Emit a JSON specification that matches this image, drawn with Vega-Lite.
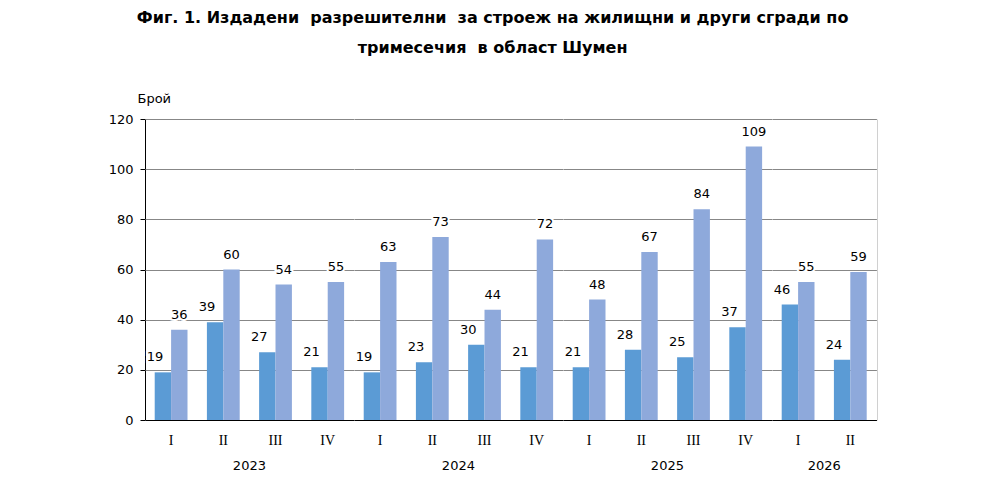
{
  "$schema": "https://vega.github.io/schema/vega-lite/v6.json",
  "background": "white",
  "padding": {"left": 108, "top": 10, "right": 5, "bottom": 5},
  "title": {
    "text": ["Фиг. 1. Издадени \u00a0разрешителни \u00a0за строеж на жилищни и други сгради по", "тримесечия \u00a0в област Шумен"],
    "font": "DejaVu Sans",
    "fontSize": 16,
    "fontWeight": "bold",
    "color": "black",
    "lineHeight": 30,
    "offset": 36,
    "anchor": "middle"
  },
  "config": {
    "view": {"stroke": null},
    "font": "DejaVu Sans",
    "axis": {"labelColor": "black", "labelFont": "DejaVu Sans", "labelFontSize": 13}
  },
  "data": {
    "values": [
      {"year": "2023", "q": "I", "series": "жилищни", "value": 19},
      {"year": "2023", "q": "I", "series": "други", "value": 36},
      {"year": "2023", "q": "II", "series": "жилищни", "value": 39},
      {"year": "2023", "q": "II", "series": "други", "value": 60},
      {"year": "2023", "q": "III", "series": "жилищни", "value": 27},
      {"year": "2023", "q": "III", "series": "други", "value": 54},
      {"year": "2023", "q": "IV", "series": "жилищни", "value": 21},
      {"year": "2023", "q": "IV", "series": "други", "value": 55},
      {"year": "2024", "q": "I", "series": "жилищни", "value": 19},
      {"year": "2024", "q": "I", "series": "други", "value": 63},
      {"year": "2024", "q": "II", "series": "жилищни", "value": 23},
      {"year": "2024", "q": "II", "series": "други", "value": 73},
      {"year": "2024", "q": "III", "series": "жилищни", "value": 30},
      {"year": "2024", "q": "III", "series": "други", "value": 44},
      {"year": "2024", "q": "IV", "series": "жилищни", "value": 21},
      {"year": "2024", "q": "IV", "series": "други", "value": 72},
      {"year": "2025", "q": "I", "series": "жилищни", "value": 21},
      {"year": "2025", "q": "I", "series": "други", "value": 48},
      {"year": "2025", "q": "II", "series": "жилищни", "value": 28},
      {"year": "2025", "q": "II", "series": "други", "value": 67},
      {"year": "2025", "q": "III", "series": "жилищни", "value": 25},
      {"year": "2025", "q": "III", "series": "други", "value": 84},
      {"year": "2025", "q": "IV", "series": "жилищни", "value": 37},
      {"year": "2025", "q": "IV", "series": "други", "value": 109},
      {"year": "2026", "q": "I", "series": "жилищни", "value": 46},
      {"year": "2026", "q": "I", "series": "други", "value": 55},
      {"year": "2026", "q": "II", "series": "жилищни", "value": 24},
      {"year": "2026", "q": "II", "series": "други", "value": 59}
    ]
  },
  "facet": {
    "column": {
      "field": "year",
      "type": "ordinal",
      "header": {
        "title": null,
        "labelOrient": "bottom",
        "labelFont": "DejaVu Sans",
        "labelFontSize": 13,
        "labelColor": "black",
        "labelPadding": 13
      }
    }
  },
  "spacing": 0,
  "resolve": {"scale": {"x": "independent"}},
  "spec": {
    "width": {"step": 16.4},
    "height": 301,
    "encoding": {
      "x": {
        "field": "q",
        "type": "nominal",
        "sort": ["I", "II", "III", "IV"],
        "scale": {"paddingInner": 0.3717, "paddingOuter": 0.18585},
        "axis": {
          "title": null,
          "labelAngle": 0,
          "labelFont": "Liberation Serif",
          "labelFontSize": 14,
          "labelPadding": 13,
          "ticks": false,
          "domainColor": "black",
          "grid": false
        }
      },
      "xOffset": {"field": "series", "type": "nominal", "sort": ["жилищни", "други"], "scale": {"paddingInner": 0, "paddingOuter": 0}}
    },
    "layer": [
      {
        "mark": {"type": "bar"},
        "encoding": {
          "y": {
            "field": "value",
            "type": "quantitative",
            "scale": {"domain": [0, 120]},
            "axis": {
              "values": [0, 20, 40, 60, 80, 100, 120],
              "title": "Брой",
              "titleAngle": 0,
              "titleAlign": "left",
              "titleBaseline": "bottom",
              "titleFont": "DejaVu Sans",
              "titleFontSize": 13,
              "titleFontWeight": "normal",
              "titleColor": "black",
              "titleX": -8,
              "titleY": -14,
              "domainColor": "black",
              "tickColor": "black",
              "tickSize": 5,
              "labelPadding": 7,
              "gridColor": "#878787",
              "gridOpacity": 1
            }
          },
          "color": {
            "field": "series",
            "type": "nominal",
            "sort": ["жилищни", "други"],
            "scale": {"range": ["#5B9BD5", "#8EA9DB"]},
            "legend": null
          }
        }
      },
      {
        "transform": [{"filter": "datum.series === 'други'"}],
        "mark": {"type": "text", "baseline": "bottom", "dy": -8, "font": "DejaVu Sans", "fontSize": 13, "fill": "white", "stroke": "white", "strokeWidth": 4},
        "encoding": {
          "y": {"field": "value", "type": "quantitative", "scale": {"domain": [0, 120]}, "axis": {"orient": "right", "title": null, "labels": false, "ticks": false, "grid": false, "domainColor": "#D0D0D0"}},
          "text": {"field": "value", "type": "quantitative"}
        }
      },
      {
        "transform": [{"filter": "datum.series === 'жилищни'"}],
        "mark": {"type": "text", "baseline": "bottom", "dy": -8, "dx": -8, "font": "DejaVu Sans", "fontSize": 13, "fill": "white", "stroke": "white", "strokeWidth": 4},
        "encoding": {
          "y": {"field": "value", "type": "quantitative", "scale": {"domain": [0, 120]}, "axis": null},
          "text": {"field": "value", "type": "quantitative"}
        }
      },
      {
        "transform": [{"filter": "datum.series === 'други'"}],
        "mark": {"type": "text", "baseline": "bottom", "dy": -8, "font": "DejaVu Sans", "fontSize": 13, "color": "black"},
        "encoding": {
          "y": {"field": "value", "type": "quantitative", "scale": {"domain": [0, 120]}, "axis": null},
          "text": {"field": "value", "type": "quantitative"}
        }
      },
      {
        "transform": [{"filter": "datum.series === 'жилищни'"}],
        "mark": {"type": "text", "baseline": "bottom", "dy": -8, "dx": -8, "font": "DejaVu Sans", "fontSize": 13, "color": "black"},
        "encoding": {
          "y": {"field": "value", "type": "quantitative", "scale": {"domain": [0, 120]}, "axis": null},
          "text": {"field": "value", "type": "quantitative"}
        }
      }
    ],
    "resolve": {"axis": {"y": "independent"}}
  }
}
